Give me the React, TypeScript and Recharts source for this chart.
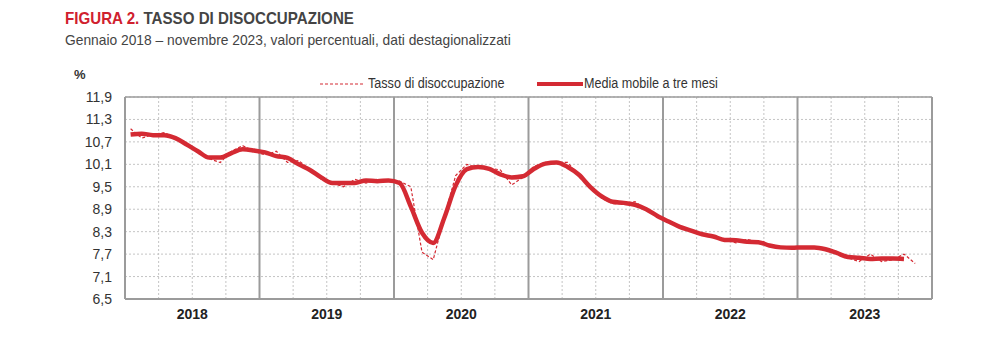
import { LineChart, Line, XAxis, YAxis, CartesianGrid, ReferenceLine } from 'recharts'

const FONT = "'Liberation Sans Narrow', 'Arial Narrow', 'Liberation Sans', Arial, sans-serif"
const RED = '#d42a33'
const GRID = '#c4c4c4'
const FRAME = '#9b9b9b'

const years = ['2018', '2019', '2020', '2021', '2022', '2023']

// tasso di disoccupazione mensile, gen 2018 - nov 2023 (dic 2023 vuoto)
const tasso = [
  11.05, 10.8, 10.9, 10.95, 10.8, 10.65, 10.45, 10.25, 10.15, 10.45, 10.6, 10.45,
  10.35, 10.45, 10.15, 10.2, 9.95, 9.7, 9.6, 9.5, 9.7, 9.6, 9.7, 9.65,
  9.65, 9.5, 7.75, 7.55, 8.7, 9.8, 10.1, 10.0, 10.0, 9.95, 9.55, 9.75,
  10.05, 10.15, 10.15, 10.15, 9.8, 9.5, 9.2, 9.05, 9.05, 9.1, 8.9, 8.7,
  8.55, 8.45, 8.3, 8.25, 8.15, 8.1, 8.0, 8.1, 8.0, 7.95, 7.85, 7.85,
  7.9, 7.9, 7.85, 7.75, 7.6, 7.5, 7.7, 7.5, 7.55, 7.7, 7.45, null,
]

// media mobile a tre mesi (centrata), fino a ott 2023
const mediaMobile = [
  10.9, 10.92, 10.88, 10.88, 10.8, 10.63, 10.45, 10.28, 10.28, 10.4, 10.5, 10.47,
  10.42, 10.32, 10.27, 10.1, 9.95, 9.75, 9.6, 9.6, 9.6, 9.67, 9.65, 9.67,
  9.6, 8.97, 8.27, 8.0, 8.68, 9.53, 9.97, 10.03, 9.98, 9.83, 9.75, 9.78,
  9.98, 10.12, 10.15, 10.03, 9.82, 9.5, 9.25, 9.1, 9.07, 9.02, 8.9, 8.72,
  8.57, 8.43, 8.33, 8.23, 8.17, 8.08, 8.07, 8.03, 8.02, 7.93, 7.88, 7.87,
  7.88, 7.88, 7.83, 7.73, 7.62, 7.6, 7.57, 7.58, 7.58, 7.57, null, null,
]

const yTicks = [6.5, 7.1, 7.7, 8.3, 8.9, 9.5, 10.1, 10.7, 11.3, 11.9]
const yearCenters = years.map((_, i) => i * 12 + 6)
const yearLines = [12, 24, 36, 48, 60]
const quarterLines = Array.from({ length: 24 }, (_, i) => i * 3).filter((q) => q % 12 !== 0)

const data = tasso.map((v, i) => ({ x: i + 0.5, tasso: v, media: mediaMobile[i] }))

const fmt = (v: number) => v.toFixed(1).replace('.', ',')

// il font narrow non c'è: stringo il testo in orizzontale
const narrow = (sx: number): React.CSSProperties => ({
  transform: `scaleX(${sx})`,
  transformOrigin: 'left center',
  whiteSpace: 'nowrap',
})

function LegendBox() {
  const txt: React.CSSProperties = {
    position: 'absolute',
    top: 75,
    fontFamily: FONT,
    fontSize: 14,
    color: '#333',
    ...narrow(0.9),
  }
  return (
    <>
      <svg width={46} height={10} style={{ position: 'absolute', left: 319, top: 79 }}>
        <line x1={1} y1={5} x2={45} y2={5} stroke={RED} strokeWidth={1.2} strokeDasharray="3 2" />
      </svg>
      <div style={{ ...txt, left: 368 }}>Tasso di disoccupazione</div>
      <svg width={48} height={10} style={{ position: 'absolute', left: 536, top: 79 }}>
        <line x1={1} y1={5} x2={47} y2={5} stroke={RED} strokeWidth={4} />
      </svg>
      <div style={{ ...txt, left: 584 }}>Media mobile a tre mesi</div>
    </>
  )
}

export default function App() {
  return (
    <div style={{ position: 'absolute', left: 0, top: 0, width: 993, height: 350, background: '#fff' }}>
      <div
        style={{
          position: 'absolute',
          left: 65,
          top: 9,
          fontFamily: FONT,
          fontSize: 17,
          fontWeight: 700,
          color: '#444',
          ...narrow(0.89),
        }}
      >
        <span style={{ color: '#d0202e' }}>FIGURA 2.</span> TASSO DI DISOCCUPAZIONE
      </div>
      <div style={{ position: 'absolute', left: 65, top: 31, fontFamily: FONT, fontSize: 15, color: '#444', ...narrow(0.92) }}>
        Gennaio 2018 – novembre 2023, valori percentuali, dati destagionalizzati
      </div>
      <div style={{ position: 'absolute', left: 74, top: 67, fontFamily: FONT, fontSize: 13, fontWeight: 700, color: '#333' }}>
        %
      </div>
      <LegendBox />
      <div style={{ position: 'absolute', left: 0, top: 0 }}>
        <LineChart width={993} height={350} data={data} margin={{ top: 97, right: 61, bottom: 21, left: 65 }}>
          <CartesianGrid vertical={false} stroke={GRID} strokeDasharray="2 2" />
          {quarterLines.map((q) => (
            <ReferenceLine key={'q' + q} x={q} stroke={GRID} strokeDasharray="2 2" />
          ))}
          {yearLines.map((q) => (
            <ReferenceLine key={'y' + q} x={q} stroke={FRAME} strokeWidth={2} />
          ))}
          <ReferenceLine x={72} stroke={FRAME} strokeWidth={2} />
          <ReferenceLine y={11.9} stroke={FRAME} strokeWidth={1.5} />
          <XAxis
            type="number"
            dataKey="x"
            domain={[0, 72]}
            ticks={yearCenters}
            tickFormatter={(v: number) => years[(v - 6) / 12]}
            interval={0}
            height={30}
            axisLine={{ stroke: FRAME, strokeWidth: 2 }}
            tickLine={false}
            tickMargin={4}
            tick={{ fontFamily: FONT, fontSize: 14, fontWeight: 700, fill: '#222' }}
          />
          <YAxis
            type="number"
            domain={[6.5, 11.9]}
            ticks={yTicks}
            interval={0}
            width={60}
            tickFormatter={fmt}
            axisLine={{ stroke: FRAME, strokeWidth: 2 }}
            tickLine={false}
            tickMargin={7}
            tick={{ fontFamily: FONT, fontSize: 14, fill: '#333' }}
          />
          <Line
            type="linear"
            dataKey="tasso"
            stroke={RED}
            strokeWidth={1.2}
            strokeDasharray="3 2"
            dot={false}
            isAnimationActive={false}
          />
          <Line
            type="monotone"
            dataKey="media"
            stroke={RED}
            strokeWidth={4.5}
            dot={false}
            isAnimationActive={false}
          />
        </LineChart>
      </div>
    </div>
  )
}
